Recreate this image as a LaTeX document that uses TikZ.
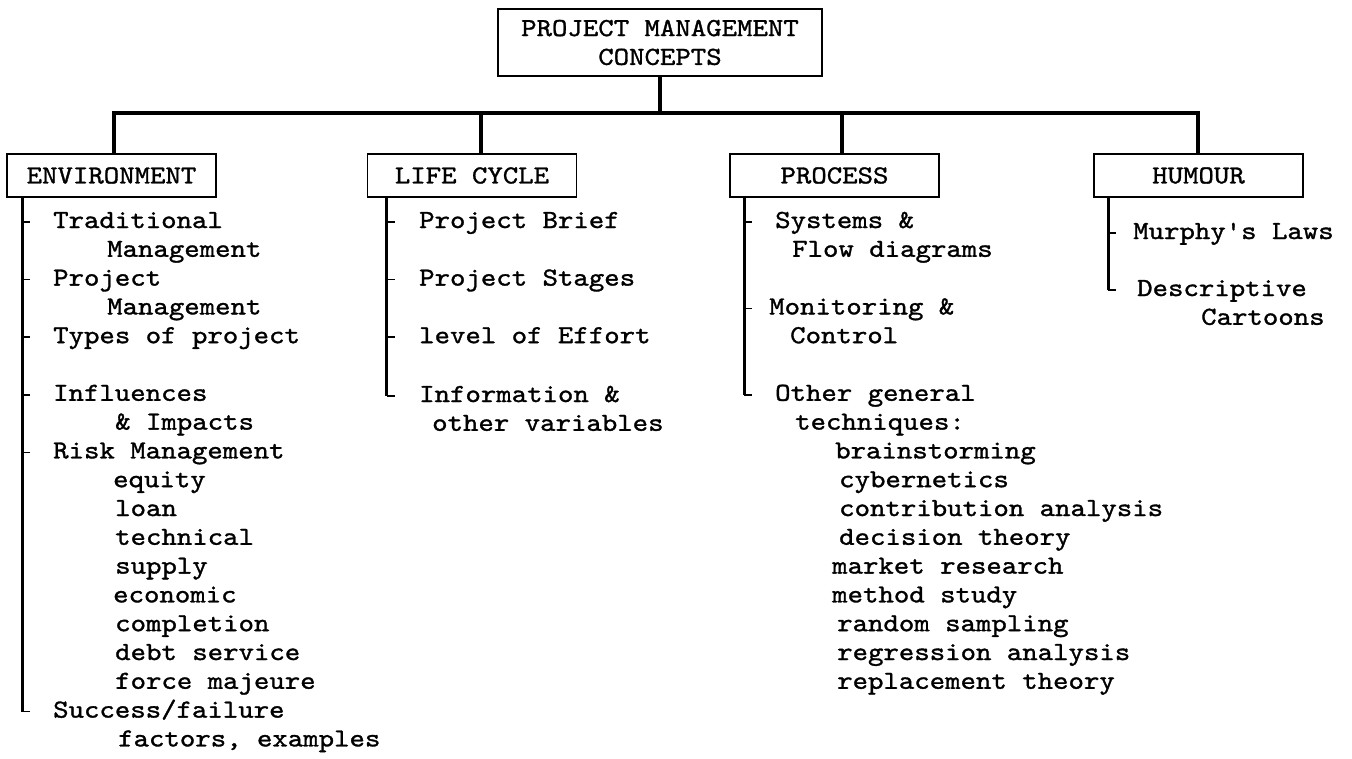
\documentclass[tikz,border=0pt]{standalone}
\usepackage{fontspec}
\usetikzlibrary{calc}
% typewriter face, widened and darkened a little
\newfontfamily\chartfont[FakeStretch=1.13, FakeBold=1.2]{lmmono10-regular.otf}

% one typewriter face, one size, for every text in the chart
\tikzset{
  x=1pt, y=-1pt,
  chartfont/.style={font=\chartfont\fontsize{26}{28.8}\selectfont},
  lbl/.style={chartfont, inner sep=0pt, anchor=base west},
  topbox/.style={draw, line width=1.6pt, chartfont, align=center,
    minimum width=324pt, minimum height=67pt, inner sep=0pt},
  headbox/.style={draw, line width=1.6pt, chartfont,
    minimum width=209pt, minimum height=43pt, inner sep=0pt},
  bar/.style={line width=4pt},
  spine/.style={line width=3.4pt},
  tick/.style={line width=1.5pt},
}
% left-aligned lines whose baseline is that of the first line
\newcommand\stack[1]{\vtop{\halign{##\hfil\cr#1\crcr}}}
% short stub from a column spine to the first line of an entry
\newcommand\entrytick[2]{\draw[tick] ($(#1 |- #2.base)+(0,-6)$) -- ++(8,0);}

\begin{document}
\begin{tikzpicture}
\fill[white] (0,0) rectangle (1352,758);
\useasboundingbox (0,0) rectangle (1352,758);

% ---- top of the tree
\node[topbox] (title) at (660,42.5) {PROJECT MANAGEMENT\\CONCEPTS};

\node[headbox] (env)  at (111.5,175.5) {ENVIRONMENT};
\node[headbox] (life) at (472,175.5)   {LIFE CYCLE};
\node[headbox] (proc) at (834.5,175.5) {PROCESS};
\node[headbox] (hum)  at (1198.5,175.5){HUMOUR};

\coordinate (barR) at (1198,113);
\draw[bar] ([xshift=2.5pt]env.north) |- (barR) -- ([xshift=-0.5pt]hum.north);
\draw[bar] (title.south) -- (title.south |- barR);
\draw[bar] ([xshift=9pt]life.north) -- ([xshift=9pt]life.north |- barR);
\draw[bar] ([xshift=7.5pt]proc.north) -- ([xshift=7.5pt]proc.north |- barR);

% ---- ENVIRONMENT column
\node[lbl] (e1) at (53,228)   {\stack{Traditional\cr\hspace*{54pt}Management}};
\node[lbl] (e2) at (53,285.6) {\stack{Project\cr\hspace*{54pt}Management}};
\node[lbl] (e3) at (53,343.2) {Types of project};
\node[lbl] (e4) at (53,400.8) {\stack{Influences\cr\hspace*{62pt}\& Impacts}};
\node[lbl] (e5) at (53,458.4) {\stack{Risk Management\cr
  \hspace*{60pt}equity\cr
  \hspace*{62pt}loan\cr
  \hspace*{62pt}technical\cr
  \hspace*{62pt}supply\cr
  \hspace*{60pt}economic\cr
  \hspace*{62pt}completion\cr
  \hspace*{62pt}debt service\cr
  \hspace*{62pt}force majeure}};
\node[lbl] (e6) at (53,717.6) {\stack{Success/failure\cr\hspace*{65pt}factors, examples}};

\coordinate (envS) at ([xshift=16pt]env.south west);
\draw[spine] (envS) -- ($(envS |- e6.base)+(0,-6)$);
\foreach \n in {e1,e2,e3,e4,e5,e6} {\entrytick{envS}{\n}}

% ---- LIFE CYCLE column
\node[lbl] (l1) at (419,228)   {Project Brief};
\node[lbl] (l2) at (419,285.6) {Project Stages};
\node[lbl] (l3) at (419,343.2) {level of Effort};
\node[lbl] (l4) at (419,402)   {\stack{Information \&\cr\hspace*{13pt}other variables}};

\coordinate (lifeS) at ([xshift=20pt]life.south west);
\draw[spine] (lifeS) -- ($(lifeS |- l4.base)+(0,-6)$);
\foreach \n in {l1,l2,l3,l4} {\entrytick{lifeS}{\n}}

% ---- PROCESS column
\node[lbl] (p1) at (775,228)   {\stack{Systems \&\cr\hspace*{17pt}Flow diagrams}};
\node[lbl] (p2) at (769,314.4) {\stack{Monitoring \&\cr\hspace*{21pt}Control}};
\node[lbl] (p3) at (775,400.8) {\stack{Other general\cr
  \hspace*{20pt}techniques:\cr
  \hspace*{60pt}brainstorming\cr
  \hspace*{64pt}cybernetics\cr
  \hspace*{64pt}contribution analysis\cr
  \hspace*{64pt}decision theory\cr
  \hspace*{57pt}market research\cr
  \hspace*{57pt}method study\cr
  \hspace*{62pt}random sampling\cr
  \hspace*{62pt}regression analysis\cr
  \hspace*{62pt}replacement theory}};

\coordinate (procS) at ([xshift=15pt]proc.south west);
\draw[spine] (procS) -- ($(procS |- p3.base)+(0,-6)$);
\foreach \n in {p1,p2,p3} {\entrytick{procS}{\n}}

% ---- HUMOUR column
\node[lbl] (h1) at (1133,239) {Murphy's Laws};
\node[lbl] (h2) at (1137,296) {\stack{Descriptive\cr\hspace*{64pt}Cartoons}};

\coordinate (humS) at ([xshift=15pt]hum.south west);
\draw[spine] (humS) -- ($(humS |- h2.base)+(0,-6)$);
\foreach \n in {h1,h2} {\entrytick{humS}{\n}}
\end{tikzpicture}
\end{document}
